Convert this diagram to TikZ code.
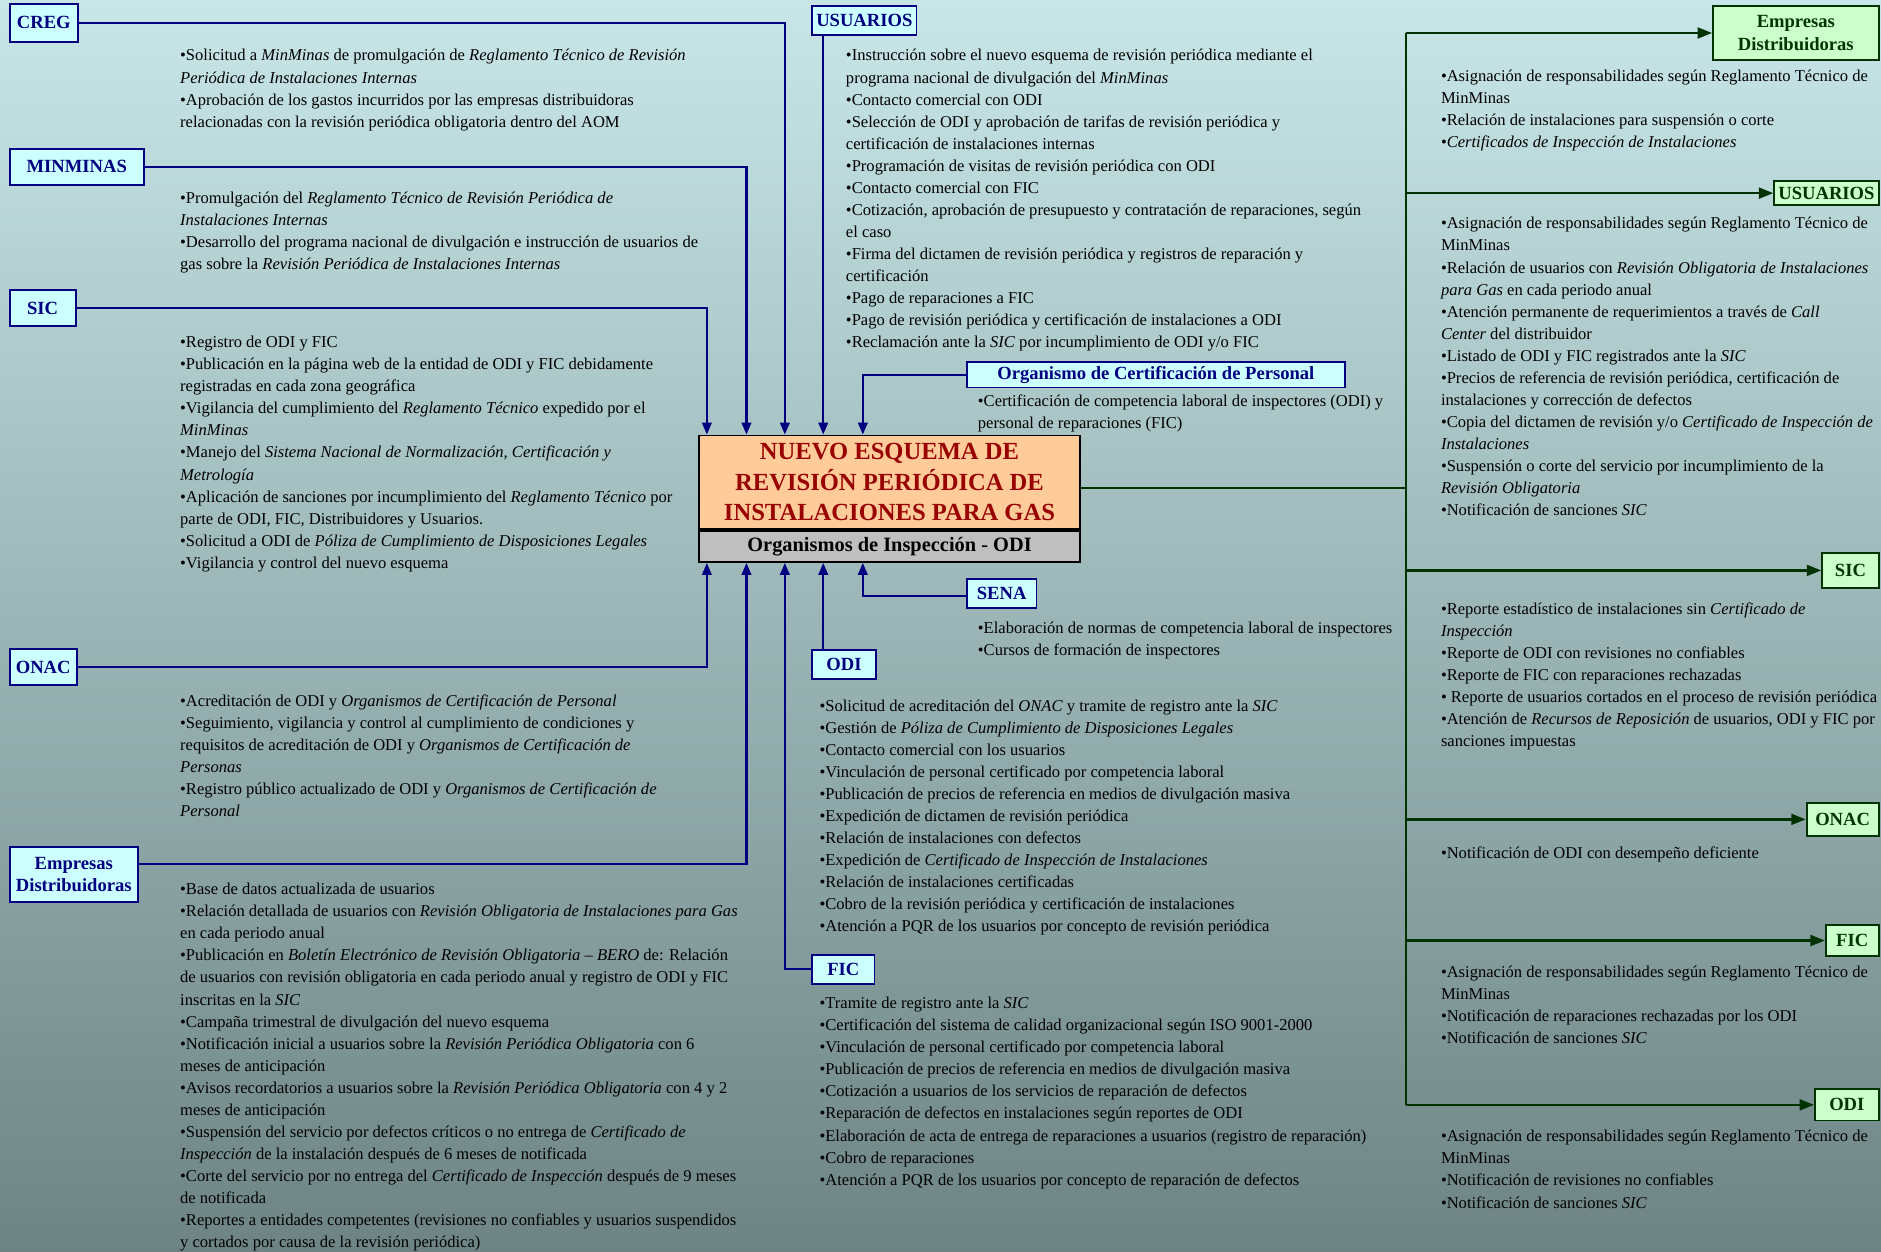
\documentclass[tikz,border=0pt]{standalone}
\usepackage{fontspec}
\setmainfont{Liberation Serif}
\usetikzlibrary{arrows.meta,positioning}
\definecolor{navy}{HTML}{000080}
\definecolor{paleblue}{HTML}{CCFFFF}
\definecolor{forest}{HTML}{003300}
\definecolor{palegreen}{HTML}{CCFFCC}
\definecolor{peach}{HTML}{FFCC99}
\definecolor{wine}{HTML}{990000}
\definecolor{bgtop}{HTML}{C8E6E8}
\definecolor{bgmid}{HTML}{A6C0C0}
\definecolor{bgbot}{HTML}{6E8484}
\newcommand\txtfont{\fontsize{13.8}{18.4}\selectfont}
\newcommand\lblfont{\fontsize{15.5}{19}\selectfont\bfseries}

\begin{document}
\begin{tikzpicture}[x=1pt,y=-1pt,
  lbox/.style={draw=navy,fill=paleblue,line width=1.6pt,text=navy,font=\lblfont,inner sep=0pt,align=center},
  rbox/.style={draw=forest,fill=palegreen,line width=1.6pt,text=forest,font=\lblfont,inner sep=0pt,align=center},
  blk/.style={anchor=north west,inner sep=0pt,align=left,font=\txtfont},
  link/.style={draw=navy,line width=1.8pt,-{Triangle[length=10pt,width=8pt]}},
  glink/.style={draw=forest,line width=2pt,-{Triangle[length=12pt,width=9pt]}}]
\shade[top color=bgtop,middle color=bgmid,bottom color=bgbot] (0,0) rectangle (1568,1043);

% centre
\node[draw,line width=1.5pt,fill=peach,text=wine,minimum width=317pt,minimum height=78pt,inner sep=0pt,
  align=center,font=\fontsize{20.5}{25.5}\selectfont\bfseries] (esquema) at (741.5,402)
  {NUEVO ESQUEMA DE\\REVISIÓN PERIÓDICA DE\\INSTALACIONES PARA GAS};
\node[draw,line width=1.5pt,fill=black!25,minimum width=317pt,minimum height=26pt,inner sep=0pt,
  font=\fontsize{17}{20}\selectfont\bfseries,below=0pt of esquema] (odibar) {Organismos de Inspección - ODI};
\foreach \i/\d in {1/7,2/40,3/72,4/104,5/137}{
  \coordinate (t\i) at ([xshift=\d pt]esquema.north west);
  \coordinate (b\i) at ([xshift=\d pt]odibar.south west);}

% entidades que entregan informacion
\node[lbox,minimum width=57pt,minimum height=32pt] (creg) at (36.5,19) {CREG};
\node[lbox,minimum width=112pt,minimum height=30pt] (minminas) at (64,139) {MINMINAS};
\node[lbox,minimum width=55pt,minimum height=30pt] (sicL) at (35.5,257) {SIC};
\node[lbox,minimum width=56pt,minimum height=30pt] (onacL) at (36,556) {ONAC};
\node[lbox,minimum width=107pt,minimum height=46pt] (empL) at (61.5,729) {Empresas\\Distribuidoras};
\node[lbox,minimum width=87pt,minimum height=24pt] (usuC) at (720.5,17) {USUARIOS};
\node[lbox,minimum width=315pt,minimum height=21pt] (ocp) at (963.5,312.5) {Organismo de Certificación de Personal};
\node[lbox,minimum width=58pt,minimum height=24pt] (sena) at (835,495) {SENA};
\node[lbox,minimum width=53pt,minimum height=24pt] (odiC) at (703.5,554) {ODI};
\node[lbox,minimum width=52pt,minimum height=24pt] (ficC) at (703,808) {FIC};

\draw[link] (sicL.east) -| (t1);
\draw[link] (minminas.east) -| (t2);
\draw[link] (creg.east) -| (t3);
\draw[link] (t4 |- usuC.south) -- (t4);
\draw[link] (ocp.west) -| (t5);
\draw[link] (onacL.east) -| (b1);
\draw[link] ([yshift=9pt]empL.east) -| (b2);
\draw[link] (ficC.west) -| (b3);
\draw[link] (b4 |- odiC.north) -- (b4);
\draw[link] ([yshift=-2pt]sena.west) -| (b5);

% entidades que reciben informacion
\node[rbox,minimum width=138pt,minimum height=45pt] (empR) at (1497,27.5) {Empresas\\Distribuidoras};
\node[rbox,minimum width=87pt,minimum height=20pt] (usuR) at (1522.5,161) {USUARIOS};
\node[rbox,minimum width=47pt,minimum height=29pt] (sicR) at (1542.5,475.5) {SIC};
\node[rbox,minimum width=60pt,minimum height=28pt] (onacR) at (1536,683) {ONAC};
\node[rbox,minimum width=44pt,minimum height=26pt] (ficR) at (1544,784) {FIC};
\node[rbox,minimum width=53pt,minimum height=26pt] (odiR) at (1539.5,921) {ODI};

\coordinate (trunk) at (1172,407);
\draw[forest,line width=2pt] ([yshift=-5pt]esquema.east) -- (trunk);
\draw[forest,line width=2pt] (empR.west -| trunk) -- (odiR.west -| trunk);
\foreach \n in {empR,usuR,sicR,onacR,ficR,odiR}
  \draw[glink] (\n.west -| trunk) -- (\n.west);

% textos
\node[blk] (tcreg) at (150,41) {•Solicitud a \textit{MinMinas} de promulgación de \textit{Reglamento Técnico de Revisión}\\
\textit{Periódica de Instalaciones Internas}\\
•Aprobación de los gastos incurridos por las empresas distribuidoras\\
relacionadas con la revisión periódica obligatoria dentro del AOM};
\node[blk] (tmin) at (150,160) {•Promulgación del \textit{Reglamento Técnico de Revisión Periódica de}\\
\textit{Instalaciones Internas}\\
•Desarrollo del programa nacional de divulgación e instrucción de usuarios de\\
gas sobre la \textit{Revisión Periódica de Instalaciones Internas}};
\node[blk] (tsicL) at (150,280) {•Registro de ODI y FIC\\
•Publicación en la página web de la entidad de ODI y FIC debidamente\\
registradas en cada zona geográfica\\
•Vigilancia del cumplimiento del \textit{Reglamento Técnico} expedido por el\\
\textit{MinMinas}\\
•Manejo del \textit{Sistema Nacional de Normalización, Certificación y}\\
\textit{Metrología}\\
•Aplicación de sanciones por incumplimiento del \textit{Reglamento Técnico} por\\
parte de ODI, FIC, Distribuidores y Usuarios.\\
•Solicitud a ODI de \textit{Póliza de Cumplimiento de Disposiciones Legales}\\
•Vigilancia y control del nuevo esquema};
\node[blk] (tonacL) at (150,579) {•Acreditación de ODI y \textit{Organismos de Certificación de Personal}\\
•Seguimiento, vigilancia y control al cumplimiento de condiciones y\\
requisitos de acreditación de ODI y \textit{Organismos de Certificación de}\\
\textit{Personas}\\
•Registro público actualizado de ODI y \textit{Organismos de Certificación de}\\
\textit{Personal}};
\node[blk] (tempL) at (150,736) {•Base de datos actualizada de usuarios\\
•Relación detallada de usuarios con \textit{Revisión Obligatoria de Instalaciones para Gas}\\
en cada periodo anual\\
•Publicación en \textit{Boletín Electrónico de Revisión Obligatoria – BERO} de: Relación\\
de usuarios con revisión obligatoria en cada periodo anual y registro de ODI y FIC\\
inscritas en la \textit{SIC}\\
•Campaña trimestral de divulgación del nuevo esquema\\
•Notificación inicial a usuarios sobre la \textit{Revisión Periódica Obligatoria} con 6\\
meses de anticipación\\
•Avisos recordatorios a usuarios sobre la \textit{Revisión Periódica Obligatoria} con 4 y 2\\
meses de anticipación\\
•Suspensión del servicio por defectos críticos o no entrega de \textit{Certificado de}\\
\textit{Inspección} de la instalación después de 6 meses de notificada\\
•Corte del servicio por no entrega del \textit{Certificado de Inspección} después de 9 meses\\
de notificada\\
•Reportes a entidades competentes (revisiones no confiables y usuarios suspendidos\\
y cortados por causa de la revisión periódica)};
\node[blk] (tusuC) at (705,41) {•Instrucción sobre el nuevo esquema de revisión periódica mediante el\\
programa nacional de divulgación del \textit{MinMinas}\\
•Contacto comercial con ODI\\
•Selección de ODI y aprobación de tarifas de revisión periódica y\\
certificación de instalaciones internas\\
•Programación de visitas de revisión periódica con ODI\\
•Contacto comercial con FIC\\
•Cotización, aprobación de presupuesto y contratación de reparaciones, según\\
el caso\\
•Firma del dictamen de revisión periódica y registros de reparación y\\
certificación\\
•Pago de reparaciones a FIC\\
•Pago de revisión periódica y certificación de instalaciones a ODI\\
•Reclamación ante la \textit{SIC} por incumplimiento de ODI y/o FIC};
\node[blk] (tocp) at (815,329) {•Certificación de competencia laboral de inspectores (ODI) y\\
personal de reparaciones (FIC)};
\node[blk] (tsena) at (815,518) {•Elaboración de normas de competencia laboral de inspectores\\
•Cursos de formación de inspectores};
\node[blk] (todiC) at (683,583) {•Solicitud de acreditación del \textit{ONAC} y tramite de registro ante la \textit{SIC}\\
•Gestión de \textit{Póliza de Cumplimiento de Disposiciones Legales}\\
•Contacto comercial con los usuarios\\
•Vinculación de personal certificado por competencia laboral\\
•Publicación de precios de referencia en medios de divulgación masiva\\
•Expedición de dictamen de revisión periódica\\
•Relación de instalaciones con defectos\\
•Expedición de \textit{Certificado de Inspección de Instalaciones}\\
•Relación de instalaciones certificadas\\
•Cobro de la revisión periódica y certificación de instalaciones\\
•Atención a PQR de los usuarios por concepto de revisión periódica};
\node[blk] (tficC) at (683,831) {•Tramite de registro ante la \textit{SIC}\\
•Certificación del sistema de calidad organizacional según ISO 9001-2000\\
•Vinculación de personal certificado por competencia laboral\\
•Publicación de precios de referencia en medios de divulgación masiva\\
•Cotización a usuarios de los servicios de reparación de defectos\\
•Reparación de defectos en instalaciones según reportes de ODI\\
•Elaboración de acta de entrega de reparaciones a usuarios (registro de reparación)\\
•Cobro de reparaciones\\
•Atención a PQR de los usuarios por concepto de reparación de defectos};
\node[blk] (tempR) at (1201,58) {•Asignación de responsabilidades según Reglamento Técnico de\\
MinMinas\\
•Relación de instalaciones para suspensión o corte\\
•\textit{Certificados de Inspección de Instalaciones}};
\node[blk] (tusuR) at (1201,181) {•Asignación de responsabilidades según Reglamento Técnico de\\
MinMinas\\
•Relación de usuarios con \textit{Revisión Obligatoria de Instalaciones}\\
\textit{para Gas} en cada periodo anual\\
•Atención permanente de requerimientos a través de \textit{Call}\\
\textit{Center} del distribuidor\\
•Listado de ODI y FIC registrados ante la \textit{SIC}\\
•Precios de referencia de revisión periódica, certificación de\\
instalaciones y corrección de defectos\\
•Copia del dictamen de revisión y/o \textit{Certificado de Inspección de}\\
\textit{Instalaciones}\\
•Suspensión o corte del servicio por incumplimiento de la\\
\textit{Revisión Obligatoria}\\
•Notificación de sanciones \textit{SIC}};
\node[blk] (tsicR) at (1201,502) {•Reporte estadístico de instalaciones sin \textit{Certificado de}\\
\textit{Inspección}\\
•Reporte de ODI con revisiones no confiables\\
•Reporte de FIC con reparaciones rechazadas\\
• Reporte de usuarios cortados en el proceso de revisión periódica\\
•Atención de \textit{Recursos de Reposición} de usuarios, ODI y FIC por\\
sanciones impuestas};
\node[blk] (tonacR) at (1201,706) {•Notificación de ODI con desempeño deficiente};
\node[blk] (tficR) at (1201,805) {•Asignación de responsabilidades según Reglamento Técnico de\\
MinMinas\\
•Notificación de reparaciones rechazadas por los ODI\\
•Notificación de sanciones \textit{SIC}};
\node[blk] (todiR) at (1201,942) {•Asignación de responsabilidades según Reglamento Técnico de\\
MinMinas\\
•Notificación de revisiones no confiables\\
•Notificación de sanciones \textit{SIC}};
\end{tikzpicture}
\end{document}
